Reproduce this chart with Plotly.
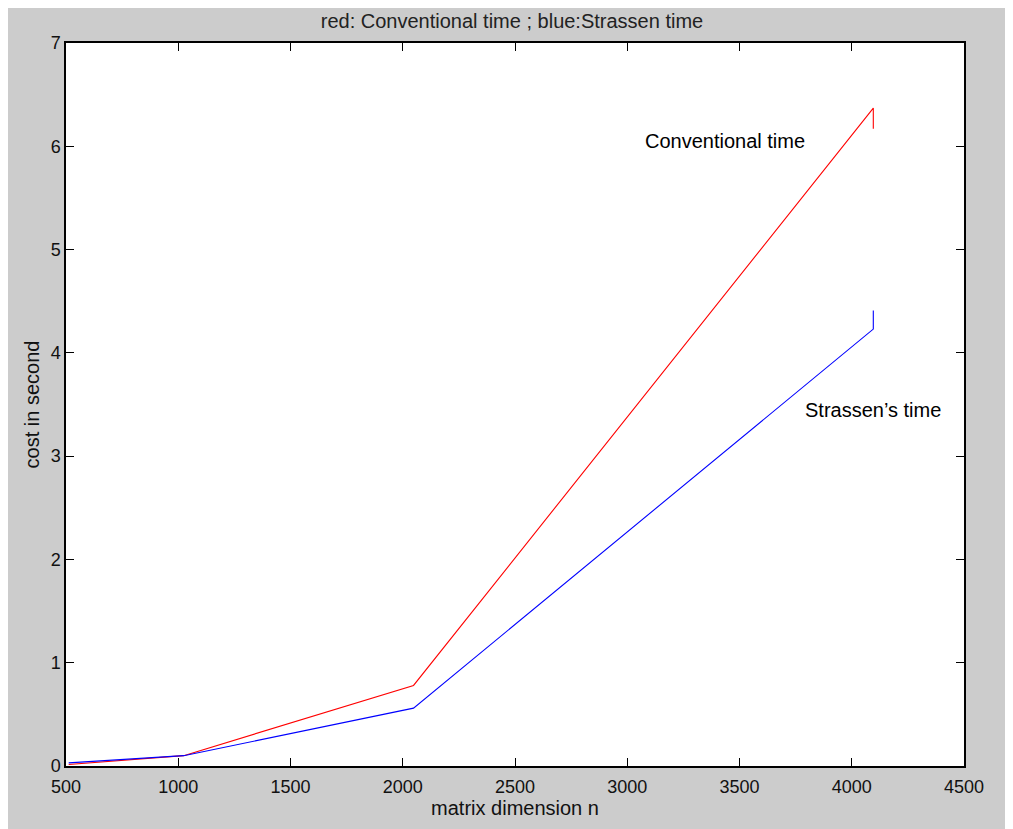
import plotly.graph_objects as go

n_vals = [512, 1024, 2048, 4096, 4096]
conventional = [0.015, 0.10, 0.78, 6.37, 6.17]
strassen = [0.03, 0.10, 0.56, 4.23, 4.41]

x_ticks = [500, 1000, 1500, 2000, 2500, 3000, 3500, 4000, 4500]
y_ticks = [0, 1, 2, 3, 4, 5, 6, 7]

FONT = "Liberation Sans, Arial, sans-serif"

fig = go.Figure()
fig.add_trace(go.Scatter(x=n_vals, y=conventional, mode="lines",
                         line=dict(color="#ff0000", width=1.1), showlegend=False))
fig.add_trace(go.Scatter(x=n_vals, y=strassen, mode="lines",
                         line=dict(color="#0000ff", width=1.1), showlegend=False))

OFF = 8  # page body margin
W, H = 1013, 829
L, T = 66 - OFF, 43 - OFF
pw, ph = 898, 723
R, B = W - L - pw, H - T - ph

def px(xs):
    return (xs - 66) / pw

def py(ys):
    return (766 - ys) / ph

fig.update_layout(
    width=W, height=H,
    margin=dict(l=L, r=R, t=T, b=B, pad=0),
    paper_bgcolor="#cccccc",
    plot_bgcolor="white",
    font=dict(family=FONT, size=18, color="#111111"),
    title=dict(text="red: Conventional time ; blue:Strassen time",
               x=px(512), xanchor="center", xref="paper",
               y=1 - (21 - OFF) / H, yanchor="middle",
               font=dict(size=20, family=FONT, color="#222222")),
    xaxis=dict(range=[500, 4500], tickvals=x_ticks, ticks="inside", ticklen=8,
               tickcolor="black", linecolor="black", linewidth=1.5, mirror="ticks",
               showgrid=False, zeroline=False, ticklabelstandoff=4,
               title=dict(text="matrix dimension n", standoff=3,
                          font=dict(size=20, family=FONT))),
    yaxis=dict(range=[0, 7], tickvals=y_ticks, ticks="inside", ticklen=8,
               tickcolor="black", linecolor="black", linewidth=1.5, mirror="ticks",
               showgrid=False, zeroline=False, ticklabelstandoff=0,
               title=dict(text="cost in second", standoff=6,
                          font=dict(size=20, family=FONT))),
    annotations=[
        dict(text="Conventional time", x=px(643), y=py(141), xref="paper", yref="paper",
             xanchor="left", yanchor="middle", showarrow=False,
             font=dict(size=20, family=FONT, color="black")),
        dict(text="Strassen\u2019s time", x=px(803), y=py(410), xref="paper", yref="paper",
             xanchor="left", yanchor="middle", showarrow=False,
             font=dict(size=20, family=FONT, color="black")),
    ],
)

fig.write_html("out.html")
